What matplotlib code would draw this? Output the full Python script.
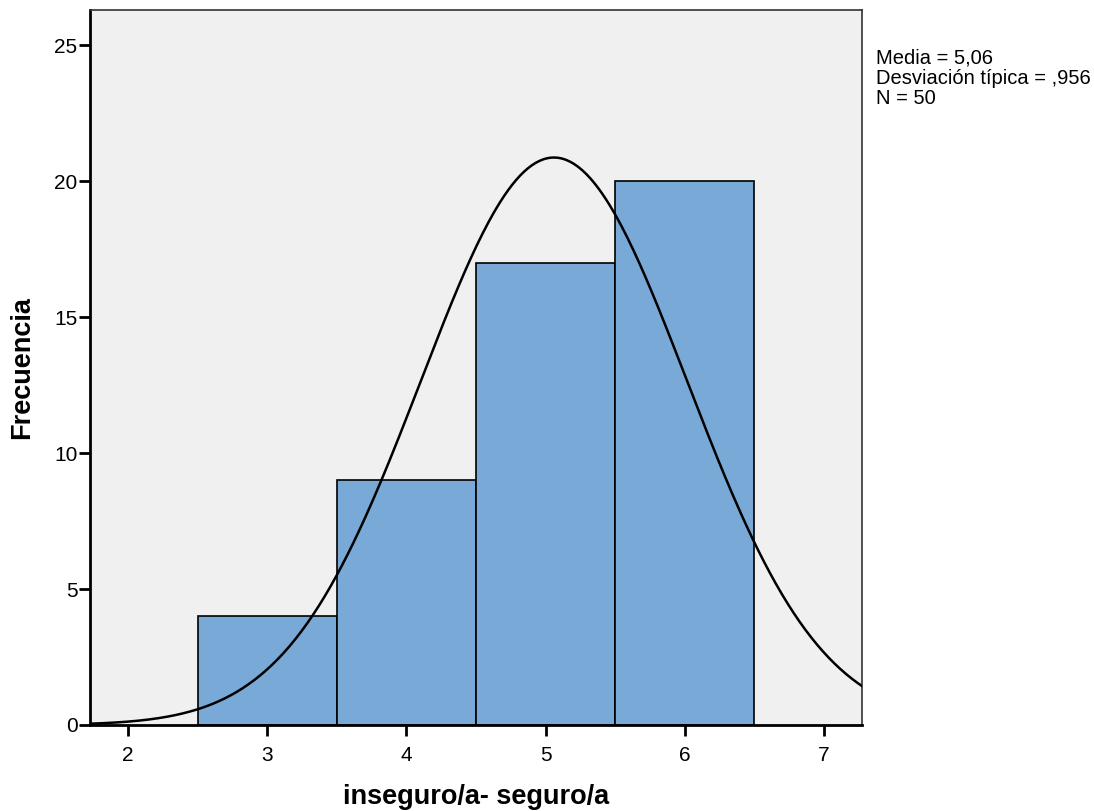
import numpy as np
import matplotlib.pyplot as plt

plt.rcParams['font.family'] = ['Liberation Sans', 'DejaVu Sans']

# histogram bins (centres) and counts
bin_centres = [3, 4, 5, 6]
counts = [4, 9, 17, 20]
mean, sd, n = 5.06, 0.956, 50
x_ticks = [2, 3, 4, 5, 6, 7]
y_ticks = [0, 5, 10, 15, 20, 25]

fig = plt.figure(figsize=(10.94, 8.11), dpi=100)
ax = fig.add_axes([90 / 1094, 1 - 725 / 811, 772 / 1094, 715 / 811])
ax.set_facecolor('#f0f0f0')

ax.bar(bin_centres, counts, width=1.0, color='#79a9d6', edgecolor='black', linewidth=1.2, zorder=2)

# fitted normal curve (scaled to counts, bin width 1)
xs = np.linspace(1.7, 7.3, 400)
ys = n / (sd * np.sqrt(2 * np.pi)) * np.exp(-0.5 * ((xs - mean) / sd) ** 2)
ax.plot(xs, ys, color='black', linewidth=1.8, zorder=3)

ax.set_xlim(1.727, 7.273)
ax.set_ylim(0, 26.29)
ax.set_xticks(x_ticks)
ax.set_yticks(y_ticks)
ax.tick_params(axis='both', direction='out', length=8, width=2, labelsize=15)
ax.tick_params(axis='x', pad=7)
ax.tick_params(axis='y', pad=1)

for side in ['left', 'bottom']:
    ax.spines[side].set_linewidth(2)
for side in ['top', 'right']:
    ax.spines[side].set_linewidth(1.2)
    ax.spines[side].set_color('#333333')

ax.set_xlabel('inseguro/a- seguro/a', fontsize=19.5, fontweight='bold')
ax.set_ylabel('Frecuencia', fontsize=19.5, fontweight='bold')
ax.xaxis.set_label_coords(0.5, -(797 - 725) / 715, transform=ax.transAxes)
ax.xaxis.label.set_va('center')
ax.yaxis.set_label_coords(-(90 - 22) / 772, 0.5, transform=ax.transAxes)
ax.yaxis.label.set_va('center')

fig.text(876 / 1094, 1 - 78 / 811, 'Media = 5,06\nDesviación típica = ,956\nN = 50',
         fontsize=14.5, va='center', ha='left', linespacing=1.08)

fig.savefig('out.png', dpi=100)
